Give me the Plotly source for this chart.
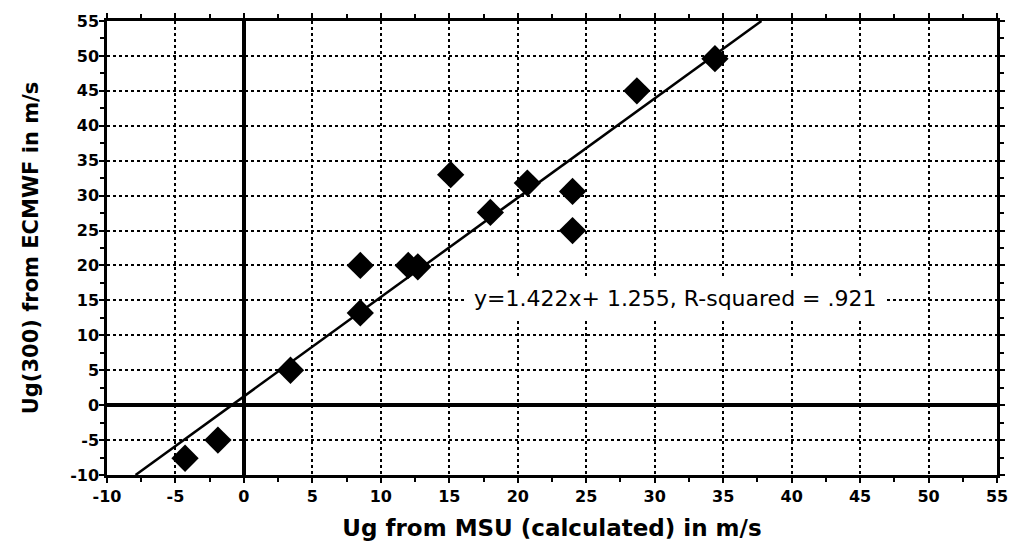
import plotly.graph_objects as go

# ---- data ----
x_msu = [-4.3, -1.9, 3.4, 8.5, 8.5, 12.0, 12.7, 15.1, 18.0, 20.7, 24.0, 24.0, 28.7, 34.4]
y_ecmwf = [-7.6, -5.0, 5.0, 20.0, 13.2, 20.0, 19.8, 33.0, 27.6, 31.8, 30.6, 25.0, 45.0, 49.6]

fit_slope = 1.422
fit_intercept = 1.255
fit_label = "y=1.422x+ 1.255, R-squared = .921"

tick_vals = [-10, -5, 0, 5, 10, 15, 20, 25, 30, 35, 40, 45, 50, 55]
tick_text = ["-10", "-5", "0", "5", "10", "15", "20", "25", "30", "35", "40", "45", "50", "55"]

axis_min, axis_max = -10, 55

x_title = "Ug from MSU (calculated) in m/s"
y_title = "Ug(300) from ECMWF in m/s"

# regression line clipped to the axis box
x0 = (axis_min - fit_intercept) / fit_slope
x1 = (axis_max - fit_intercept) / fit_slope
line_x = [x0, x1]
line_y = [fit_slope * v + fit_intercept for v in line_x]

fig = go.Figure()
fig.add_trace(go.Scatter(
    x=line_x, y=line_y, mode="lines",
    line=dict(color="black", width=2.5),
    showlegend=False, hoverinfo="skip"))
fig.add_trace(go.Scatter(
    x=x_msu, y=y_ecmwf, mode="markers",
    marker=dict(symbol="diamond", size=21, color="black"),
    showlegend=False))

tick_font = dict(family="DejaVu Sans", size=16, color="black", weight="bold")

common = dict(
    range=[axis_min, axis_max],
    tickmode="array", tickvals=tick_vals, ticktext=tick_text,
    showgrid=True, gridcolor="black", griddash="dot", gridwidth=2,
    zeroline=True, zerolinecolor="black", zerolinewidth=4,
    showline=True, linecolor="black", linewidth=2.5, mirror="allticks",
    ticks="outside", ticklen=5, tickwidth=2, tickcolor="black",
    minor=dict(dtick=2.5, ticks="outside", ticklen=4, tickwidth=2, tickcolor="black", showgrid=False),
    tickfont=tick_font,
)

fig.update_xaxes(**common, title=dict(
    text=x_title, standoff=15,
    font=dict(family="DejaVu Sans", size=23, color="black", weight="bold")))
fig.update_yaxes(**common, ticklabelstandoff=-3, title=dict(
    text=y_title, standoff=26,
    font=dict(family="DejaVu Sans", size=21, color="black", weight="bold")))

fig.add_annotation(
    x=31.5, y=15.2, xref="x", yref="y", text=fit_label, showarrow=False,
    font=dict(family="DejaVu Sans", size=22, color="black"),
    bgcolor="white", borderpad=9)

# page body has an 8px margin, so the figure is offset by 8px
fig.update_layout(
    width=1008, height=548,
    margin=dict(l=99, r=19, t=13, b=81, autoexpand=False),
    paper_bgcolor="white", plot_bgcolor="white",
)

fig.write_html("out.html")
